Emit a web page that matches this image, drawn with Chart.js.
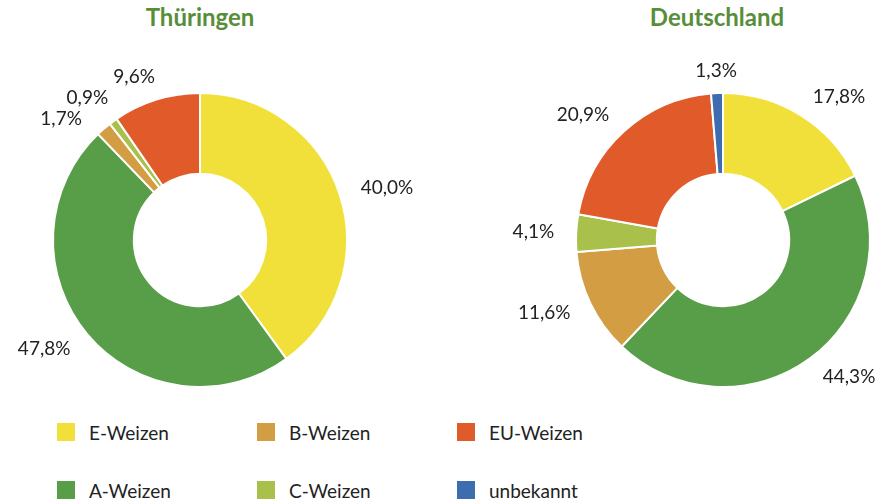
<!DOCTYPE html>
<html>
<head>
<meta charset="utf-8">
<script src="https://cdn.jsdelivr.net/npm/chart.js@4"></script>
<style>
  body { margin: 0; background: #fff; font-family: Lato, "Noto Sans", sans-serif; }
  #wrap { position: relative; width: 889px; height: 504px; overflow: hidden; }
  .title { position: absolute; top: 2px; width: 400px; text-align: center;
    font-weight: bold; font-size: 24px; color: #578e3a; }
  canvas { position: absolute; left: 0; top: 0; }
  #legend { position: absolute; left: 57px; top: 420px; display: grid;
    grid-template-columns: 200px 200px 200px; grid-auto-flow: column;
    grid-template-rows: 58px 58px; }
  .item { display: flex; align-items: center; height: 24px; font-size: 19px; color: #222; }
  .swatch { width: 18px; height: 18px; margin-right: 14px; }
</style>
</head>
<body>
<div id="wrap">
  <div class="title" style="left:0">Thüringen</div>
  <div class="title" style="left:517px">Deutschland</div>
  <canvas id="chart-th"></canvas>
  <canvas id="chart-de"></canvas>
  <div id="legend"></div>
</div>
<script>
const categories = ["E-Weizen", "A-Weizen", "B-Weizen", "C-Weizen", "EU-Weizen", "unbekannt"];
const thueringenValues = [40.0, 47.8, 1.7, 0.9, 9.6, 0];
const deutschlandValues = [17.8, 44.3, 11.6, 4.1, 20.9, 1.3];
const colors = ["#f2e03a", "#589d47", "#d39d44", "#a9c04a", "#e05a2a", "#3e6daf"];

const fmt = (v) => v.toLocaleString("de-DE", { minimumFractionDigits: 1, maximumFractionDigits: 1 }) + "%";

// percent labels outside each slice, pushed apart when they collide
const outsideLabels = {
  id: "outsideLabels",
  afterDatasetsDraw(chart) {
    const ctx = chart.ctx;
    const meta = chart.getDatasetMeta(0);
    const data = chart.data.datasets[0].data;
    const labels = [];
    let cx = 0, cy = 0, d = 0;
    meta.data.forEach((arc, i) => {
      if (!data[i]) return;
      const p = arc.getProps(["x", "y", "startAngle", "endAngle", "outerRadius"], true);
      const mid = (p.startAngle + p.endAngle) / 2;
      cx = p.x; cy = p.y; d = p.outerRadius + 22;
      labels.push({ text: fmt(data[i]), cos: Math.cos(mid), y: p.y + Math.sin(mid) * d });
    });

    const minGap = 21;
    [labels.filter((l) => l.cos < 0), labels.filter((l) => l.cos >= 0)].forEach((group) => {
      group.sort((a, b) => a.y - b.y);
      for (let it = 0; it < 20; it++) {
        for (let k = 1; k < group.length; k++) {
          const overlap = minGap - (group[k].y - group[k - 1].y);
          if (overlap > 0) {
            group[k].y += overlap / 2;
            group[k - 1].y -= overlap / 2;
          }
        }
      }
    });

    ctx.save();
    ctx.font = "19px Lato, 'Noto Sans', sans-serif";
    ctx.fillStyle = "#222";
    ctx.textBaseline = "middle";
    labels.forEach((l) => {
      const dy = l.y - cy;
      const dx = Math.sqrt(Math.max(d * d - dy * dy, 0)) * Math.sign(l.cos);
      ctx.textAlign = l.cos > 0.15 ? "left" : l.cos < -0.15 ? "right" : "center";
      ctx.fillText(l.text, cx + dx, l.y);
    });
    ctx.restore();
  },
};

const makeChart = (id, values, padLeft, padRight) => {
  const canvas = document.getElementById(id);
  canvas.width = 889;
  canvas.height = 400;
  return new Chart(canvas, {
    type: "doughnut",
    data: {
      labels: categories,
      datasets: [{
        data: values,
        backgroundColor: colors,
        borderColor: "#fff",
        borderWidth: 2,
      }],
    },
    options: {
      responsive: false,
      animation: false,
      cutout: "45%",
      layout: { padding: { left: padLeft, right: padRight, top: 92, bottom: 12 } },
      plugins: {
        legend: { display: false },
        tooltip: { enabled: false },
      },
    },
    plugins: [outsideLabels],
  });
};

makeChart("chart-th", thueringenValues, 52, 889 - 348);
makeChart("chart-de", deutschlandValues, 575, 889 - 871);

const legend = document.getElementById("legend");
categories.forEach((label, i) => {
  legend.insertAdjacentHTML("beforeend",
    `<div class="item"><span class="swatch" style="background:${colors[i]}"></span>${label}</div>`);
});
</script>
</body>
</html>
